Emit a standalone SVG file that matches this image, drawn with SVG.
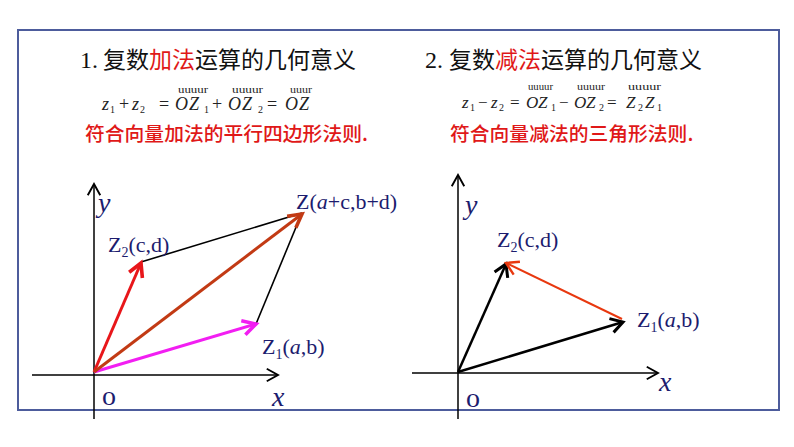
<svg xmlns="http://www.w3.org/2000/svg" width="794" height="447" viewBox="0 0 794 447">
<style>
.title{font-family:"Noto Sans CJK SC",sans-serif;font-size:23px;fill:#111}
.num{font-family:"Liberation Serif",serif;font-size:24px;fill:#111}
.red{fill:#e01818}
.rule{font-family:"Noto Sans CJK SC",sans-serif;font-size:19.8px;font-weight:500;fill:#e01818}
.m{font-family:"Liberation Serif",serif;font-style:italic;font-size:18px;fill:#222}
.mr{font-family:"Liberation Serif",serif;font-size:18px;fill:#222}
.sub{font-family:"Liberation Serif",serif;font-size:10px;fill:#222}
.uu{font-family:"Liberation Serif",serif;font-size:11px;fill:#222}
.lbl{font-family:"Liberation Serif",serif;font-size:22px;fill:#1c1c6e}
.lsub{font-family:"Liberation Serif",serif;font-size:14px;fill:#1c1c6e}
.ax{font-family:"Liberation Serif",serif;font-style:italic;font-size:28px;fill:#1c1c6e}
.o{font-family:"Liberation Serif",serif;font-size:28px;fill:#1c1c6e}
.axis{stroke:#000;stroke-width:1.5;fill:none}
</style>
<defs>
<marker id="ahAx" markerUnits="userSpaceOnUse" markerWidth="20" markerHeight="20" refX="0" refY="0" viewBox="-12 -8 14 16" orient="auto"><path d="M-9,-5 L0,0 L-9,5" fill="none" stroke="#000" stroke-width="1.5"/></marker>
<marker id="ahRed" markerUnits="userSpaceOnUse" markerWidth="24" markerHeight="24" refX="0" refY="0" viewBox="-14 -10 17 20" orient="auto"><path d="M-11,-6 L0,0 L-11,6" fill="none" stroke="#e8161a" stroke-width="3"/></marker>
<marker id="ahMag" markerUnits="userSpaceOnUse" markerWidth="24" markerHeight="24" refX="0" refY="0" viewBox="-14 -10 17 20" orient="auto"><path d="M-11,-6 L0,0 L-11,6" fill="none" stroke="#f21ef2" stroke-width="3"/></marker>
<marker id="ahBrn" markerUnits="userSpaceOnUse" markerWidth="24" markerHeight="24" refX="0" refY="0" viewBox="-14 -10 17 20" orient="auto"><path d="M-11,-6 L0,0 L-11,6" fill="none" stroke="#c23a14" stroke-width="3"/></marker>
<marker id="ahBlk" markerUnits="userSpaceOnUse" markerWidth="24" markerHeight="24" refX="0" refY="0" viewBox="-14 -10 17 20" orient="auto"><path d="M-10,-6 L0,0 L-10,6" fill="none" stroke="#000" stroke-width="2.5"/></marker>
<marker id="ahOr" markerUnits="userSpaceOnUse" markerWidth="24" markerHeight="24" refX="0" refY="0" viewBox="-14 -10 17 20" orient="auto"><path d="M-10,-6 L0,0 L-10,6" fill="none" stroke="#e8380f" stroke-width="2"/></marker>
</defs>
<rect width="794" height="447" fill="#fff"/>
<rect id="frame" x="18" y="30" width="761" height="380" fill="none" stroke="#4d5c9c" stroke-width="2"/>

<g id="title1">
<text x="80" y="68" class="num">1.</text>
<text x="103" y="68" class="title">复数<tspan class="red">加法</tspan>运算的几何意义</text>
</g>
<g id="formula1">
<text x="102" y="110" class="m">z</text><text x="110" y="113" class="sub">1</text>
<text x="119" y="110" class="mr">+</text>
<text x="132" y="110" class="m">z</text><text x="140" y="113" class="sub">2</text>
<text x="159" y="110" class="mr">=</text>
<text x="175" y="110" class="m">O</text><text x="189" y="110" class="m">Z</text><text x="204" y="113" class="sub">1</text>
<text x="212" y="110" class="mr">+</text>
<text x="228" y="110" class="m">O</text><text x="242" y="110" class="m">Z</text><text x="258" y="113" class="sub">2</text>
<text x="267" y="110" class="mr">=</text>
<text x="285" y="110" class="m">O</text><text x="299" y="110" class="m">Z</text>
<text x="178" y="93" class="uu" textLength="30" lengthAdjust="spacingAndGlyphs">uuuur</text>
<text x="232" y="93" class="uu" textLength="31" lengthAdjust="spacingAndGlyphs">uuuur</text>
<text x="290" y="93" class="uu" textLength="22" lengthAdjust="spacingAndGlyphs">uuur</text>
</g>
<g id="rule1"><text x="85" y="141" class="rule">符合向量加法的平行四边形法则.</text></g>

<g id="title2">
<text x="425" y="68" class="num">2.</text>
<text x="449" y="68" class="title">复数<tspan class="red">减法</tspan>运算的几何意义</text>
</g>
<g id="formula2">
<text x="462" y="108" class="m" style="font-size:17px">z</text><text x="470" y="111" class="sub">1</text>
<text x="478" y="108" class="mr" style="font-size:17px">−</text>
<text x="491" y="108" class="m" style="font-size:17px">z</text><text x="499" y="111" class="sub">2</text>
<text x="510" y="108" class="mr" style="font-size:17px">=</text>
<text x="526" y="108" class="m" style="font-size:17px">O</text><text x="538" y="108" class="m" style="font-size:17px">Z</text><text x="551" y="111" class="sub">1</text>
<text x="559" y="108" class="mr" style="font-size:17px">−</text>
<text x="574" y="108" class="m" style="font-size:17px">O</text><text x="586" y="108" class="m" style="font-size:17px">Z</text><text x="599" y="111" class="sub">2</text>
<text x="607" y="108" class="mr" style="font-size:17px">=</text>
<text x="626" y="108" class="m" style="font-size:17px">Z</text><text x="638" y="111" class="sub">2</text>
<text x="645" y="108" class="m" style="font-size:17px">Z</text><text x="657" y="111" class="sub">1</text>
<text x="528" y="90" class="uu" textLength="25" lengthAdjust="spacingAndGlyphs">uuuur</text>
<text x="577" y="90" class="uu" textLength="28" lengthAdjust="spacingAndGlyphs">uuuur</text>
<text x="628" y="90" class="uu" textLength="33" lengthAdjust="spacingAndGlyphs">uuuur</text>
</g>
<g id="rule2"><text x="450" y="141" class="rule">符合向量减法的三角形法则.</text></g>

<g id="axes1">
<line x1="94" y1="419" x2="94" y2="184" class="axis" marker-end="url(#ahAx)"/>
<line x1="32" y1="375" x2="278" y2="375" class="axis" marker-end="url(#ahAx)"/>
</g>
<g id="connectors1">
<line x1="141" y1="262" x2="302" y2="213" stroke="#000" stroke-width="1.6"/>
<line x1="256" y1="324" x2="299" y2="220" stroke="#000" stroke-width="1.6"/>
<line x1="94" y1="372" x2="141" y2="263" stroke="#e8161a" stroke-width="3" marker-end="url(#ahRed)"/>
<line x1="94" y1="372" x2="256" y2="324" stroke="#f21ef2" stroke-width="3" marker-end="url(#ahMag)"/>
<line x1="94" y1="372" x2="302" y2="214" stroke="#c23a14" stroke-width="3" marker-end="url(#ahBrn)"/>
</g>
<g id="labels1">
<text x="98" y="212" class="ax">y</text>
<text x="108" y="252" class="lbl">Z<tspan class="lsub" dy="5">2</tspan><tspan dy="-5">(c,d)</tspan></text>
<text x="296" y="209" class="lbl">Z(<tspan font-style="italic">a</tspan>+c,b+d)</text>
<text x="262" y="354" class="lbl">Z<tspan class="lsub" dy="5">1</tspan><tspan dy="-5">(</tspan><tspan font-style="italic">a</tspan>,b)</text>
<text x="102" y="405" class="o">o</text>
<text x="272" y="406" class="ax">x</text>
</g>

<g id="axes2">
<line x1="458" y1="419" x2="458" y2="175" class="axis" marker-end="url(#ahAx)"/>
<line x1="412" y1="373" x2="658" y2="373" class="axis" marker-end="url(#ahAx)"/>
</g>
<g id="connectors2">
<line x1="458" y1="372" x2="506" y2="264" stroke="#000" stroke-width="2.5" marker-end="url(#ahBlk)"/>
<line x1="458" y1="372" x2="623" y2="322" stroke="#000" stroke-width="2.5" marker-end="url(#ahBlk)"/>
<line x1="622" y1="319" x2="506" y2="263" stroke="#e8380f" stroke-width="2" marker-end="url(#ahOr)"/>
</g>
<g id="labels2">
<text x="465" y="214" class="ax">y</text>
<text x="497" y="247" class="lbl">Z<tspan class="lsub" dy="5">2</tspan><tspan dy="-5">(c,d)</tspan></text>
<text x="637" y="327" class="lbl">Z<tspan class="lsub" dy="5">1</tspan><tspan dy="-5">(</tspan><tspan font-style="italic">a</tspan>,b)</text>
<text x="466" y="407" class="o">o</text>
<text x="659" y="391" class="ax">x</text>
</g>
</svg>
